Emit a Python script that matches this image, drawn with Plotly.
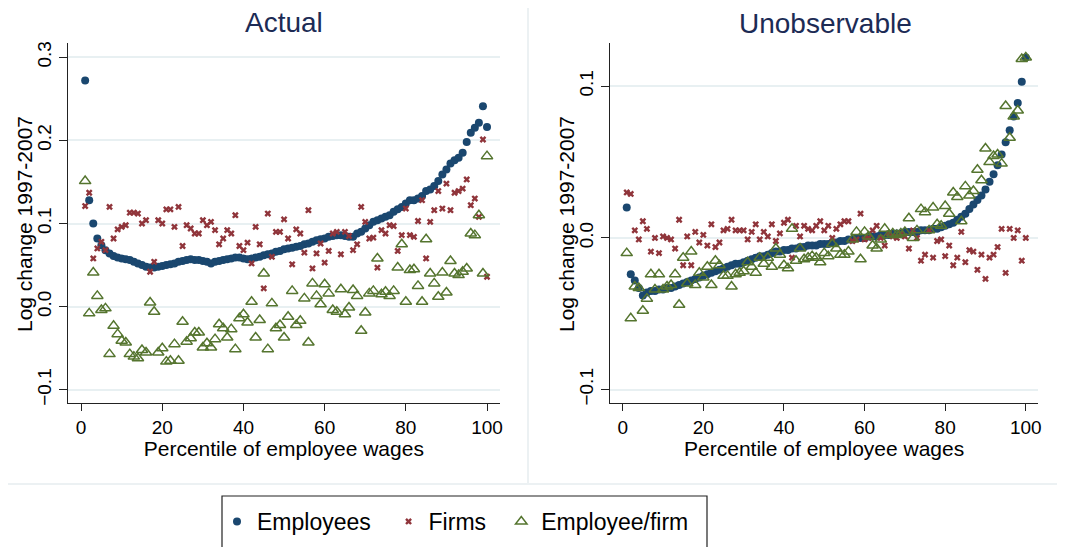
import plotly.graph_objects as go

pct = list(range(1, 101))

# ---- Actual panel ----
act_employees = [
    0.272, 0.128, 0.100, 0.082, 0.074, 0.068, 0.064, 0.061, 0.059, 0.058,
    0.057, 0.056, 0.054, 0.052, 0.050, 0.048, 0.047, 0.047, 0.048, 0.049,
    0.050, 0.051, 0.052, 0.054, 0.055, 0.056, 0.057, 0.056, 0.056, 0.055,
    0.054, 0.052, 0.054, 0.055, 0.056, 0.057, 0.058, 0.059, 0.059, 0.058,
    0.057, 0.058, 0.059, 0.060, 0.062, 0.063, 0.064, 0.066, 0.067, 0.069,
    0.070, 0.071, 0.072, 0.073, 0.075, 0.076, 0.078, 0.080, 0.081, 0.082,
    0.084, 0.085, 0.086, 0.086, 0.085, 0.084, 0.084, 0.088, 0.090, 0.094,
    0.098, 0.102, 0.104, 0.106, 0.108, 0.110, 0.114, 0.117, 0.120, 0.124,
    0.128, 0.128, 0.130, 0.133, 0.139, 0.141, 0.145, 0.151, 0.159, 0.165,
    0.172, 0.176, 0.179, 0.185, 0.198, 0.209, 0.215, 0.221, 0.241, 0.216,
]
act_firms = [
    0.121, 0.137, 0.058, 0.070, 0.078, 0.068, 0.120, 0.082, 0.093, 0.096,
    0.098, 0.113, 0.113, 0.112, 0.100, 0.104, 0.042, 0.054, 0.104, 0.100,
    0.117, 0.117, 0.096, 0.120, 0.073, 0.098, 0.094, 0.088, 0.088, 0.104,
    0.098, 0.102, 0.092, 0.075, 0.082, 0.092, 0.088, 0.110, 0.073, 0.068,
    0.077, 0.052, 0.096, 0.075, 0.022, 0.112, 0.060, 0.090, 0.090, 0.105,
    0.082, 0.051, 0.093, 0.088, 0.065, 0.116, 0.046, 0.064, 0.076, 0.053,
    0.067, 0.088, 0.090, 0.063, 0.090, 0.085, 0.068, 0.075, 0.120, 0.102,
    0.082, 0.083, 0.047, 0.092, 0.088, 0.098, 0.097, 0.067, 0.086, 0.118,
    0.086, 0.084, 0.103, 0.128, 0.058, 0.102, 0.116, 0.139, 0.118, 0.148,
    0.116, 0.137, 0.139, 0.142, 0.153, 0.122, 0.130, 0.108, 0.201, 0.036,
]
act_match = [
    0.151, -0.008, 0.041, 0.013, -0.004, -0.002, -0.057, -0.023, -0.033, -0.041,
    -0.043, -0.057, -0.060, -0.062, -0.052, -0.055, 0.005, -0.006, -0.055, -0.050,
    -0.066, -0.065, -0.045, -0.065, -0.018, -0.042, -0.038, -0.031, -0.031, -0.049,
    -0.044, -0.049, -0.039, -0.021, -0.026, -0.037, -0.027, -0.051, -0.014, -0.009,
    -0.019, 0.006, -0.037, -0.016, 0.040, -0.051, 0.004, -0.026, -0.022, -0.037,
    -0.012, 0.019, -0.022, -0.017, 0.010, -0.043, 0.028, 0.013, 0.003, 0.027,
    0.016, -0.004, -0.006, 0.021, -0.009, -0.001, 0.020, 0.013, -0.029, -0.007,
    0.016, 0.019, 0.058, 0.015, 0.018, 0.013, 0.019, 0.047, 0.075, 0.006,
    0.044, 0.045, 0.025, 0.006, 0.081, 0.040, 0.028, 0.012, 0.041, 0.017,
    0.055, 0.040, 0.038, 0.042, 0.046, 0.088, 0.086, 0.110, 0.040, 0.181,
]

# ---- Unobservable panel ----
unob_employees = [
    0.020, -0.024, -0.028, -0.033, -0.038, -0.036, -0.035, -0.035, -0.034, -0.034,
    -0.033, -0.033, -0.032, -0.031, -0.030, -0.029, -0.028, -0.027, -0.026, -0.025,
    -0.024, -0.023, -0.022, -0.021, -0.020, -0.019, -0.018, -0.017, -0.017, -0.016,
    -0.015, -0.014, -0.013, -0.012, -0.012, -0.011, -0.010, -0.009, -0.009, -0.008,
    -0.008, -0.007, -0.007, -0.006, -0.006, -0.005, -0.005, -0.005, -0.004, -0.004,
    -0.004, -0.003, -0.003, -0.002, -0.002, -0.001, -0.001, 0.000, 0.000, 0.000,
    0.001, 0.001, 0.001, 0.002, 0.002, 0.002, 0.003, 0.003, 0.003, 0.004,
    0.004, 0.004, 0.004, 0.005, 0.005, 0.005, 0.006, 0.006, 0.007, 0.008,
    0.009, 0.010, 0.012, 0.014, 0.016, 0.019, 0.022, 0.025, 0.028, 0.032,
    0.037, 0.042, 0.048, 0.055, 0.063, 0.071, 0.080, 0.089, 0.103, 0.119,
]
unob_firms = [
    0.030, 0.029, 0.005, -0.001, 0.011, 0.006, -0.009, 0.000, -0.010, 0.001,
    0.000, -0.001, -0.007, 0.012, -0.018, 0.001, -0.018, 0.004, -0.003, 0.002,
    -0.005, 0.009, -0.006, -0.003, 0.005, 0.006, 0.012, 0.005, 0.005, 0.005,
    -0.001, 0.004, 0.009, -0.001, 0.004, 0.001, 0.009, -0.002, 0.003, 0.010,
    0.012, -0.013, 0.008, 0.001, 0.008, 0.006, 0.005, 0.008, 0.011, 0.005,
    0.008, 0.000, 0.006, 0.009, 0.011, 0.011, -0.002, -0.001, 0.016, -0.001,
    0.000, 0.005, 0.008, 0.000, -0.005, 0.003, 0.001, 0.000, 0.003, 0.001,
    -0.007, 0.005, 0.000, -0.015, -0.011, 0.005, -0.013, -0.002, -0.001, -0.012,
    -0.005, -0.018, -0.013, 0.004, -0.016, -0.008, -0.009, -0.021, -0.011, -0.027,
    -0.013, -0.011, -0.006, 0.006, -0.023, 0.006, 0.000, 0.005, -0.015, 0.000,
]
unob_match = [
    -0.010, -0.053, -0.032, -0.033, -0.048, -0.040, -0.024, -0.034, -0.024, -0.034,
    -0.032, -0.031, -0.024, -0.044, -0.013, -0.030, -0.009, -0.031, -0.023, -0.026,
    -0.019, -0.031, -0.015, -0.018, -0.025, -0.025, -0.032, -0.024, -0.023, -0.022,
    -0.016, -0.019, -0.023, -0.013, -0.017, -0.013, -0.019, -0.007, -0.011, -0.018,
    -0.020, 0.006, -0.015, -0.007, -0.014, -0.013, -0.012, -0.013, -0.016, -0.010,
    -0.012, -0.004, -0.007, -0.011, -0.011, -0.009, -0.001, 0.004, -0.014, 0.004,
    0.001, -0.005, -0.007, -0.001, 0.006, 0.002, 0.003, 0.002, 0.003, 0.004,
    0.013, 0.000, 0.005, 0.019, 0.017, 0.005, 0.020, 0.009, 0.008, 0.021,
    0.016, 0.030, 0.027, 0.011, 0.034, 0.028, 0.031, 0.045, 0.038, 0.059,
    0.050, 0.054, 0.055, 0.049, 0.087, 0.066, 0.080, 0.084, 0.118, 0.119,
]

series_names = ["Employees", "Firms", "Employee/firm"]
# trailing spaces widen the legend entries to match the original spacing
legend_labels = [
    series_names[0] + "\u00a0\u00a0",
    series_names[1] + "\u00a0\u200a\u200a",
    series_names[2] + "\u00a0\u00a0",
]
NAVY, MAROON, GREEN = "#1a476f", "#90353b", "#55752f"
FONT = "Liberation Sans, Arial, sans-serif"
TITLE_COLOR = "#1c2b55"

fig = go.Figure()


def add_panel(fig, emp, firms, match, xa, ya, show_legend):
    fig.add_trace(go.Scatter(
        x=pct, y=emp, mode="markers", name=legend_labels[0],
        marker=dict(color=NAVY, size=8, symbol="circle"),
        xaxis=xa, yaxis=ya, showlegend=show_legend, legendgroup="emp",
    ))
    fig.add_trace(go.Scatter(
        x=pct, y=firms, mode="markers", name=legend_labels[1],
        marker=dict(color=MAROON, size=6, symbol="x"),
        xaxis=xa, yaxis=ya, showlegend=show_legend, legendgroup="firms",
    ))
    fig.add_trace(go.Scatter(
        x=pct, y=match, mode="markers", name=legend_labels[2],
        marker=dict(color=GREEN, size=10, symbol="triangle-up-open",
                    line=dict(color=GREEN, width=1.5)),
        xaxis=xa, yaxis=ya, showlegend=show_legend, legendgroup="match",
    ))


add_panel(fig, act_employees, act_firms, act_match, "x", "y", True)
add_panel(fig, unob_employees, unob_firms, unob_match, "x2", "y2", False)

# page body has an 8px margin, so the figure is 8px smaller than the window
W, H = 1057, 539
y_dom = [1 - 394.7 / H, 1 - 35 / H]

xaxis_common = dict(
    tickvals=[0, 20, 40, 60, 80, 100], ticks="outside", ticklen=7,
    tickcolor="#222", showline=True, linecolor="#222", linewidth=1,
    showgrid=False, zeroline=False,
    tickfont=dict(family=FONT, size=19, color="black"),
    title=dict(text="Percentile of employee wages", standoff=2,
               font=dict(family=FONT, size=21, color="black")),
    automargin=False,
)
yaxis_common = dict(
    ticks="outside", ticklen=8, tickcolor="#222", tickangle=-90,
    showline=True, linecolor="#222", linewidth=1,
    showgrid=True, gridcolor="#e8f0f2", gridwidth=1.5, zeroline=False,
    tickformat=".1f",
    tickfont=dict(family=FONT, size=19, color="black"),
    automargin=False,
)


def text_ann(text, x, y, size, color, angle=0):
    return dict(text=text, x=x / W, y=1 - y / H, xref="paper", yref="paper",
                xanchor="center", yanchor="middle", textangle=angle,
                showarrow=False, font=dict(family=FONT, size=size, color=color))


fig.update_layout(
    width=W, height=H,
    margin=dict(l=0, r=0, t=0, b=0),
    paper_bgcolor="white", plot_bgcolor="white",
    template="none",
    xaxis=dict(domain=[59.7 / W, 492 / W], range=[-3.3, 103.2], anchor="y", **xaxis_common),
    yaxis=dict(domain=y_dom, range=[-0.1154, 0.317], anchor="x",
               tickvals=[-0.1, 0.0, 0.1, 0.2, 0.3], **yaxis_common),
    xaxis2=dict(domain=[602 / W, 1030.3 / W], range=[-3.15, 103.1], anchor="y2", **xaxis_common),
    yaxis2=dict(domain=y_dom, range=[-0.1086, 0.1285], anchor="x2",
                tickvals=[-0.1, 0.0, 0.1], **yaxis_common),
    legend=dict(
        orientation="h", x=209 / W, y=1 - 492 / H, xanchor="left", yanchor="top",
        borderwidth=0, bgcolor="rgba(0,0,0,0)",
        font=dict(family=FONT, size=23, color="black"),
    ),
    annotations=[
        text_ann("Actual", 276, 14, 28, TITLE_COLOR),
        text_ann("Unobservable", 817, 15, 28, TITLE_COLOR),
        text_ann("Log change 1997-2007", 16, 216, 21, "black", -90),
        text_ann("Log change 1997-2007", 558, 216, 21, "black", -90),
    ],
    shapes=[
        dict(type="line", xref="paper", yref="paper", x0=520 / W, x1=520 / W,
             y0=1 - 475 / H, y1=1, line=dict(color="#e6edef", width=1.5)),
        dict(type="line", xref="paper", yref="paper", x0=0, x1=1,
             y0=1 - 476 / H, y1=1 - 476 / H, line=dict(color="#e6edef", width=1.5)),
        # legend frame (runs off the bottom of the figure as in the original)
        dict(type="rect", xref="paper", yref="paper", x0=214 / W, x1=699 / W,
             y0=1 - 580 / H, y1=1 - 488 / H, line=dict(color="#222", width=1.2)),
    ],
)

fig.write_html("out.html")
